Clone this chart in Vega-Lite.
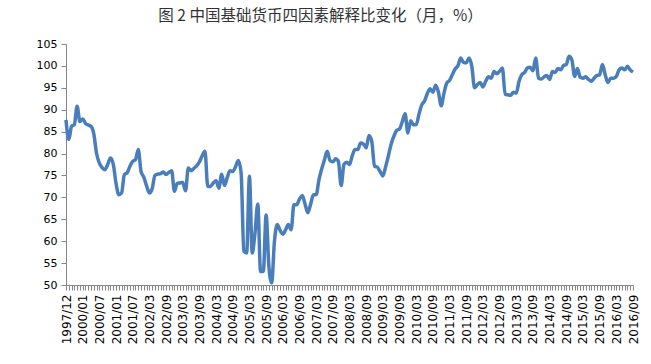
{
  "$schema": "https://vega.github.io/schema/vega-lite/v6.json",
  "width": 567,
  "height": 241,
  "autosize": "none",
  "padding": {"left": 66, "top": 44, "right": 18, "bottom": 79},
  "background": "white",
  "title": {"text": "图 2  中国基础货币四因素解释比变化（月，%）", "font": "Noto Sans CJK SC", "fontSize": 15.5, "fontWeight": "normal", "color": "#333333", "anchor": "middle", "dx": -29, "offset": 14},
  "data": {"values": [
    {"month":"1997/12","ratio":87.7},{"month":"1998/06","ratio":83.2},{"month":"1998/12","ratio":86.2},{"month":"1999/06","ratio":86.6},{"month":"1999/09","ratio":90.8},{"month":"1999/12","ratio":87.3},
    {"month":"2000/01","ratio":87.9},{"month":"2000/02","ratio":86.9},{"month":"2000/03","ratio":86.5},{"month":"2000/04","ratio":86.2},{"month":"2000/05","ratio":84.5},{"month":"2000/06","ratio":80.0},{"month":"2000/07","ratio":77.8},{"month":"2000/08","ratio":76.8},{"month":"2000/09","ratio":76.3},{"month":"2000/10","ratio":77.5},{"month":"2000/11","ratio":79.0},{"month":"2000/12","ratio":77.6},
    {"month":"2001/01","ratio":73.2},{"month":"2001/02","ratio":70.6},{"month":"2001/03","ratio":71.0},{"month":"2001/04","ratio":75.2},{"month":"2001/05","ratio":75.6},{"month":"2001/06","ratio":77.1},{"month":"2001/07","ratio":78.2},{"month":"2001/08","ratio":78.6},{"month":"2001/09","ratio":80.9},{"month":"2001/10","ratio":75.9},{"month":"2001/11","ratio":74.6},{"month":"2001/12","ratio":72.6},
    {"month":"2002/03","ratio":71.0},{"month":"2002/04","ratio":72.0},{"month":"2002/05","ratio":75.0},{"month":"2002/06","ratio":75.3},{"month":"2002/07","ratio":75.4},{"month":"2002/08","ratio":75.8},{"month":"2002/09","ratio":75.2},{"month":"2002/10","ratio":75.7},{"month":"2002/11","ratio":76.1},{"month":"2002/12","ratio":71.4},
    {"month":"2003/01","ratio":73.2},{"month":"2003/02","ratio":73.3},{"month":"2003/03","ratio":73.4},{"month":"2003/04","ratio":71.5},{"month":"2003/05","ratio":76.7},{"month":"2003/06","ratio":76.1},{"month":"2003/07","ratio":76.6},{"month":"2003/08","ratio":77.2},{"month":"2003/09","ratio":78.1},{"month":"2003/10","ratio":79.5},{"month":"2003/11","ratio":80.5},{"month":"2003/12","ratio":72.5},
    {"month":"2004/01","ratio":72.5},{"month":"2004/02","ratio":73.3},{"month":"2004/03","ratio":73.8},{"month":"2004/04","ratio":72.1},{"month":"2004/05","ratio":75.3},{"month":"2004/06","ratio":72.7},{"month":"2004/07","ratio":74.5},{"month":"2004/08","ratio":76.1},{"month":"2004/09","ratio":75.9},{"month":"2004/10","ratio":77.0},{"month":"2004/11","ratio":78.4},{"month":"2004/12","ratio":75.6},
    {"month":"2005/01","ratio":57.7},{"month":"2005/02","ratio":57.3},{"month":"2005/03","ratio":74.8},{"month":"2005/04","ratio":57.3},{"month":"2005/05","ratio":61.9},{"month":"2005/06","ratio":68.5},{"month":"2005/07","ratio":53.1},{"month":"2005/08","ratio":53.1},{"month":"2005/09","ratio":66.0},{"month":"2005/10","ratio":54.2},{"month":"2005/11","ratio":50.5},{"month":"2005/12","ratio":60.0},
    {"month":"2006/01","ratio":63.8},{"month":"2006/02","ratio":62.5},{"month":"2006/03","ratio":61.6},{"month":"2006/04","ratio":62.6},{"month":"2006/05","ratio":63.8},{"month":"2006/06","ratio":62.6},{"month":"2006/07","ratio":68.3},{"month":"2006/08","ratio":68.3},{"month":"2006/09","ratio":69.6},{"month":"2006/10","ratio":70.4},{"month":"2006/11","ratio":68.5},{"month":"2006/12","ratio":66.5},
    {"month":"2007/01","ratio":68.4},{"month":"2007/02","ratio":70.6},{"month":"2007/03","ratio":70.6},{"month":"2007/04","ratio":74.0},{"month":"2007/05","ratio":76.5},{"month":"2007/06","ratio":78.6},{"month":"2007/07","ratio":80.5},{"month":"2007/08","ratio":78.4},{"month":"2007/09","ratio":78.1},{"month":"2007/10","ratio":78.8},{"month":"2007/11","ratio":78.2},{"month":"2007/12","ratio":72.7},
    {"month":"2008/01","ratio":77.5},{"month":"2008/02","ratio":78.0},{"month":"2008/03","ratio":77.5},{"month":"2008/04","ratio":79.5},{"month":"2008/05","ratio":80.9},{"month":"2008/06","ratio":80.9},{"month":"2008/07","ratio":82.4},{"month":"2008/08","ratio":82.2},{"month":"2008/09","ratio":81.3},{"month":"2008/10","ratio":84.1},{"month":"2008/11","ratio":82.8},{"month":"2008/12","ratio":77.1},
    {"month":"2009/01","ratio":76.9},{"month":"2009/02","ratio":75.9},{"month":"2009/03","ratio":74.9},{"month":"2009/04","ratio":77.0},{"month":"2009/05","ratio":79.5},{"month":"2009/06","ratio":82.2},{"month":"2009/07","ratio":84.0},{"month":"2009/08","ratio":85.3},{"month":"2009/09","ratio":85.6},{"month":"2009/10","ratio":87.3},{"month":"2009/11","ratio":89.1},{"month":"2009/12","ratio":84.7},
    {"month":"2010/01","ratio":87.5},{"month":"2010/02","ratio":86.6},{"month":"2010/03","ratio":86.6},{"month":"2010/04","ratio":89.0},{"month":"2010/05","ratio":91.1},{"month":"2010/06","ratio":92.0},{"month":"2010/07","ratio":93.7},{"month":"2010/08","ratio":94.8},{"month":"2010/09","ratio":94.0},{"month":"2010/10","ratio":95.6},{"month":"2010/11","ratio":94.0},{"month":"2010/12","ratio":90.9},
    {"month":"2011/01","ratio":93.8},{"month":"2011/02","ratio":96.1},{"month":"2011/03","ratio":96.7},{"month":"2011/04","ratio":98.0},{"month":"2011/05","ratio":99.3},{"month":"2011/06","ratio":100.0},{"month":"2011/07","ratio":101.8},{"month":"2011/08","ratio":100.8},{"month":"2011/09","ratio":100.7},{"month":"2011/10","ratio":101.8},{"month":"2011/11","ratio":99.9},{"month":"2011/12","ratio":95.0},
    {"month":"2012/01","ratio":95.7},{"month":"2012/02","ratio":96.2},{"month":"2012/03","ratio":95.2},{"month":"2012/04","ratio":96.5},{"month":"2012/05","ratio":97.5},{"month":"2012/06","ratio":97.2},{"month":"2012/07","ratio":98.7},{"month":"2012/08","ratio":98.2},{"month":"2012/09","ratio":98.8},{"month":"2012/10","ratio":99.5},{"month":"2012/11","ratio":93.5},{"month":"2012/12","ratio":93.4},
    {"month":"2013/01","ratio":93.3},{"month":"2013/02","ratio":94.0},{"month":"2013/03","ratio":93.8},{"month":"2013/04","ratio":96.5},{"month":"2013/05","ratio":98.0},{"month":"2013/06","ratio":98.5},{"month":"2013/07","ratio":99.5},{"month":"2013/08","ratio":99.7},{"month":"2013/09","ratio":98.9},{"month":"2013/10","ratio":101.8},{"month":"2013/11","ratio":97.2},{"month":"2013/12","ratio":97.0},
    {"month":"2014/01","ratio":97.5},{"month":"2014/02","ratio":97.8},{"month":"2014/03","ratio":96.9},{"month":"2014/04","ratio":98.7},{"month":"2014/05","ratio":98.5},{"month":"2014/06","ratio":99.4},{"month":"2014/07","ratio":99.1},{"month":"2014/08","ratio":100.1},{"month":"2014/09","ratio":100.3},{"month":"2014/10","ratio":102.2},{"month":"2014/11","ratio":101.4},{"month":"2014/12","ratio":97.6},
    {"month":"2015/01","ratio":99.4},{"month":"2015/02","ratio":97.4},{"month":"2015/03","ratio":97.2},{"month":"2015/04","ratio":97.5},{"month":"2015/05","ratio":96.9},{"month":"2015/06","ratio":96.5},{"month":"2015/07","ratio":97.2},{"month":"2015/08","ratio":97.8},{"month":"2015/09","ratio":98.0},{"month":"2015/10","ratio":100.3},{"month":"2015/11","ratio":98.0},{"month":"2015/12","ratio":96.2},
    {"month":"2016/01","ratio":97.2},{"month":"2016/02","ratio":97.2},{"month":"2016/03","ratio":97.6},{"month":"2016/04","ratio":99.1},{"month":"2016/05","ratio":99.5},{"month":"2016/06","ratio":99.1},{"month":"2016/07","ratio":99.9},{"month":"2016/08","ratio":99.1},{"month":"2016/09","ratio":98.6}
  ]},
  "mark": {"type": "line", "color": "#4A7EBB", "strokeWidth": 3.5, "interpolate": "monotone"},
  "encoding": {
    "x": {
      "field": "month", "type": "ordinal", "sort": null,
      "scale": {"type": "point", "padding": 0},
      "axis": {
        "title": null, "labelAngle": -90, "labelFont": "DejaVu Sans", "labelFontSize": 12, "labelColor": "#000000",
        "labelPadding": 4, "labelOverlap": false, "tickColor": "#868686", "tickSize": 5, "domainColor": "#868686", "grid": false,
        "labelExpr": "indexof(['1997/12','2000/01','2000/07','2001/01','2001/07','2002/03','2002/09','2003/03','2003/09','2004/03','2004/09','2005/03','2005/09','2006/03','2006/09','2007/03','2007/09','2008/03','2008/09','2009/03','2009/09','2010/03','2010/09','2011/03','2011/09','2012/03','2012/09','2013/03','2013/09','2014/03','2014/09','2015/03','2015/09','2016/03','2016/09'], datum.value) >= 0 ? datum.value : ''"
      }
    },
    "y": {
      "field": "ratio", "type": "quantitative",
      "scale": {"domain": [50, 105], "nice": false, "zero": false},
      "axis": {
        "title": null, "values": [50,55,60,65,70,75,80,85,90,95,100,105], "labelFont": "DejaVu Sans", "labelFontSize": 11, "labelColor": "#000000",
        "labelPadding": 4, "tickColor": "#868686", "tickSize": 5, "domainColor": "#868686", "grid": false
      }
    }
  },
  "config": {"view": {"stroke": null}}
}
